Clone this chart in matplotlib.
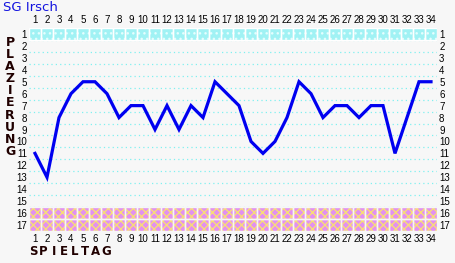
import matplotlib
matplotlib.use('Agg')
import matplotlib.pyplot as plt

# Spieltag 1..34 and Platz (1..17)
days = list(range(1, 35))
rows = list(range(1, 18))
platz = [11, 13, 8, 6, 5, 5, 6, 8, 7, 7, 9, 7, 9, 7, 8, 5, 6,
         7, 10, 11, 10, 8, 5, 6, 8, 7, 7, 8, 7, 7, 11, 8, 5, 5]
team = 'SG Irsch'
top_rows = [1]
bottom_rows = [16, 17]

bg = '#f7f7f7'
fig = plt.figure(figsize=(4.55, 2.63), dpi=100, facecolor=bg)
ax = fig.add_axes([29 / 455, 1 - 231 / 263, 408 / 455, 203 / 263])
ax.set_facecolor(bg)
ax.set_xlim(0.5, 34.5)
ax.set_ylim(17.5, 0.5)
for s in ax.spines.values():
    s.set_visible(False)

# dotted row grid
for r in rows[:-1]:
    ax.axhline(r + 0.5, color='#80f0f0', lw=0.9, ls=(0, (1, 2.5)), zorder=1)

# coloured bands
for r in top_rows:
    ax.bar(days, 1, bottom=r - 0.5, width=1, color='#a0f2f4', zorder=2)
    ax.bar(days, 1, bottom=r - 0.5, width=1, color='none', hatch='...',
           edgecolor='#e4fefe', lw=0, zorder=3)
    ax.bar(days, 1, bottom=r - 0.5, width=1, color='none',
           edgecolor='white', lw=1.0, zorder=4)
for r in bottom_rows:
    ax.bar(days, 1, bottom=r - 0.5, width=1, color='#e290f0', zorder=2)
    ax.bar(days, 1, bottom=r - 0.5, width=1, color='none', hatch='xxxx',
           edgecolor='#f8dc78', lw=0, zorder=3)
    ax.bar(days, 1, bottom=r - 0.5, width=1, color='none',
           edgecolor='#f6f6f6', lw=1.0, zorder=4)

ax.plot(days, platz, color='#0000f0', lw=2.3, solid_joinstyle='miter', zorder=5)

ax.set_xticks(days)
ax.set_yticks(rows)
ax.tick_params(axis='both', length=0, labelsize=7, colors='black')
ax.tick_params(axis='x', top=True, labeltop=True, bottom=True, labelbottom=True, pad=2)
ax.tick_params(axis='y', left=True, labelleft=True, right=True, labelright=True, pad=1.5)
for t in ax.xaxis.get_major_ticks() + ax.yaxis.get_major_ticks():
    t.label1.set_fontfamily('Liberation Sans')
    t.label2.set_fontfamily('Liberation Sans')

fig.text(3 / 455, 1 - 1 / 263, team, color='#1414e0', fontsize=9.5,
         fontfamily='DejaVu Sans', ha='left', va='top')

word = 'PLAZIERUNG'
for i, ch in enumerate(word):
    fig.text(10 / 455, 1 - (42 + i * 12.2) / 263, ch, fontsize=9,
             fontweight='bold', color='#200000', ha='center', va='center')

word2 = 'SPIELTAG'
for i, ch in enumerate(word2):
    fig.text((33 + i * 10.4) / 455, 1 - 251.5 / 263, ch, fontsize=8.5,
             fontweight='bold', color='#200000', ha='center', va='center')

fig.savefig('out.png', dpi=100, facecolor=bg)
